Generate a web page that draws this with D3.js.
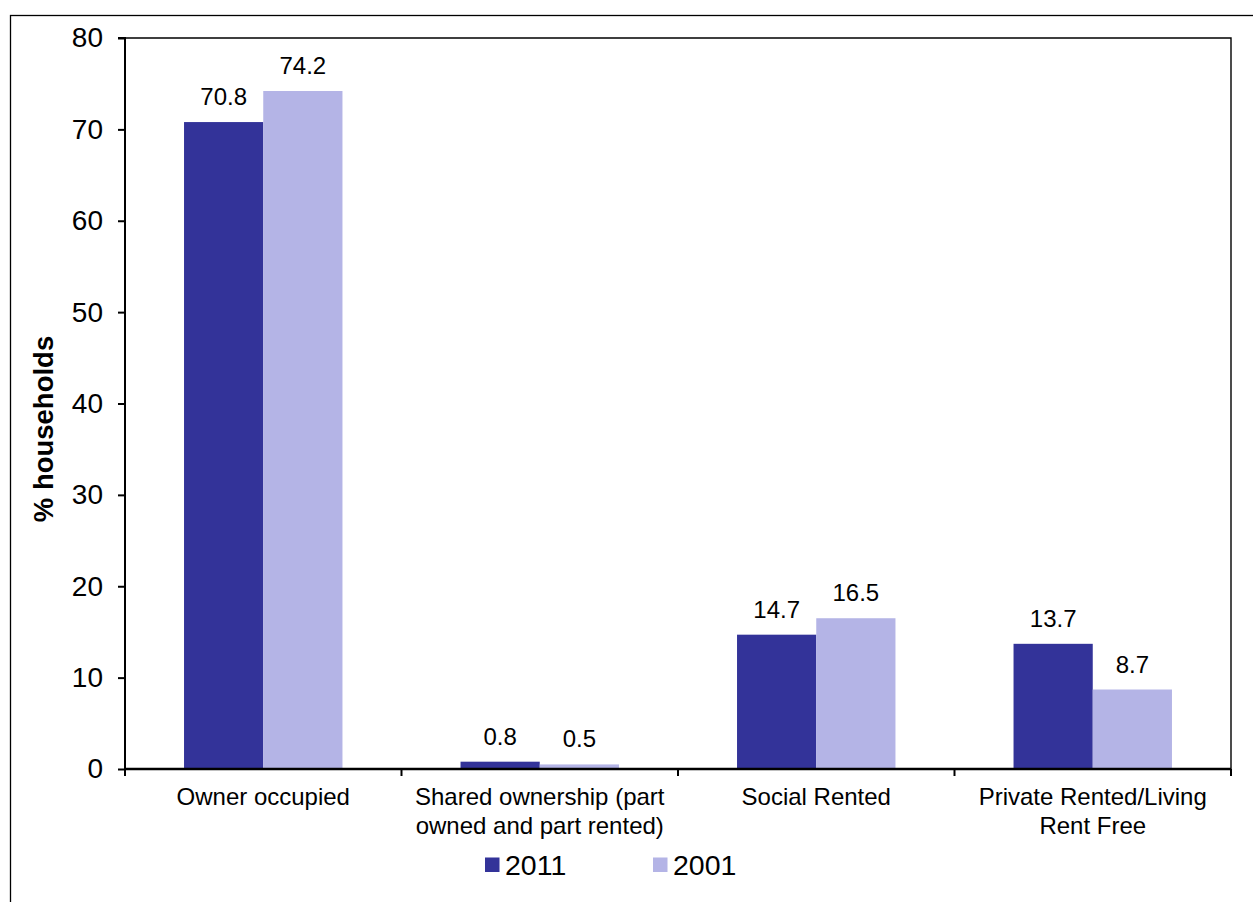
<!DOCTYPE html>
<html>
<head>
<meta charset="utf-8">
<script src="https://cdn.jsdelivr.net/npm/d3@7"></script>
<style>
  html, body { margin: 0; padding: 0; background: #fff; }
  svg { display: block; font-family: "Liberation Sans", Arial, sans-serif; }
</style>
</head>
<body>
<svg id="chart" width="1253" height="902"></svg>
<script>
// Household tenure, share of households (%)
const categories = [
  ["Owner occupied"],
  ["Shared ownership (part", "owned and part rented)"],
  ["Social Rented"],
  ["Private Rented/Living", "Rent Free"]
];
const seriesNames = ["2011", "2001"];
const values2011 = [70.8, 0.8, 14.7, 13.7];
const values2001 = [74.2, 0.5, 16.5, 8.7];
const yTicks = [0, 10, 20, 30, 40, 50, 60, 70, 80];
const colors = ["#333399", "#b4b4e6"];

const svg = d3.select("#chart");
const plot = { left: 125, right: 1231, top: 38, bottom: 769 };

// outer chart frame
svg.append("rect")
  .attr("x", 10.5).attr("y", 15.5)
  .attr("width", 1260).attr("height", 900)
  .attr("fill", "none").attr("stroke", "#000").attr("stroke-width", 1.3);

const x0 = d3.scaleBand()
  .domain(d3.range(categories.length))
  .range([plot.left, plot.right])
  .paddingInner(0).paddingOuter(0);

const groupPad = 0.2135;
const x1 = d3.scaleBand()
  .domain([0, 1])
  .range([x0.bandwidth() * groupPad, x0.bandwidth() * (1 - groupPad)]);

const y = d3.scaleLinear().domain([0, 80]).range([plot.bottom, plot.top]);

// plot area frame (top and right)
svg.append("path")
  .attr("d", `M${plot.left},${plot.top}H${plot.right}V${plot.bottom}`)
  .attr("fill", "none").attr("stroke", "#000").attr("stroke-width", 1.4);

const series = [values2011, values2001];
const groups = svg.append("g");
series.forEach((vals, si) => {
  groups.selectAll(null)
    .data(vals)
    .enter().append("rect")
    .attr("x", (d, i) => x0(i) + x1(si))
    .attr("y", d => y(d))
    .attr("width", x1.bandwidth())
    .attr("height", d => y(0) - y(d))
    .attr("fill", colors[si]);

  groups.selectAll(null)
    .data(vals)
    .enter().append("text")
    .attr("x", (d, i) => x0(i) + x1(si) + x1.bandwidth() / 2)
    .attr("y", d => y(d) - 17)
    .attr("text-anchor", "middle")
    .attr("font-size", 24)
    .attr("fill", "#000")
    .text(d => d.toFixed(1));
});

// y axis
const yAxis = d3.axisLeft(y).tickValues(yTicks).tickSize(7).tickPadding(15);
const gy = svg.append("g").attr("transform", `translate(${plot.left},0)`).call(yAxis);
gy.select(".domain").attr("stroke-width", 2).attr("d", `M-7,${plot.top}H0V${plot.bottom}`);
gy.selectAll(".tick line").attr("stroke-width", 2);
gy.selectAll(".tick text").attr("font-size", 28).attr("font-family", "Liberation Sans, Arial, sans-serif").attr("fill", "#000");

// x axis with ticks at category boundaries
const gx = svg.append("g").attr("transform", `translate(0,${plot.bottom})`);
gx.append("line")
  .attr("x1", plot.left).attr("x2", plot.right)
  .attr("stroke", "#000").attr("stroke-width", 2.4);
const boundaries = d3.range(categories.length + 1).map(i =>
  i < categories.length ? x0(i) : x0(categories.length - 1) + x0.bandwidth());
gx.selectAll(".xtick")
  .data(boundaries)
  .enter().append("line")
  .attr("x1", d => d).attr("x2", d => d)
  .attr("y1", 0).attr("y2", 7)
  .attr("stroke", "#000").attr("stroke-width", 2);

const catLabels = gx.selectAll(".cat")
  .data(categories)
  .enter().append("text")
  .attr("text-anchor", "middle")
  .attr("font-size", 24)
  .attr("fill", "#000");
catLabels.each(function(lines, i) {
  const t = d3.select(this);
  lines.forEach((ln, j) => {
    t.append("tspan")
      .attr("x", x0(i) + x0.bandwidth() / 2)
      .attr("y", 36 + j * 28.5)
      .text(ln);
  });
});

// y axis title
svg.append("text")
  .attr("transform", "translate(53,429) rotate(-90)")
  .attr("text-anchor", "middle")
  .attr("font-size", 27.5)
  .attr("font-weight", "bold")
  .attr("fill", "#000")
  .text("% households");

// legend
const legendX = [485, 653];
const legend = svg.append("g");
seriesNames.forEach((name, i) => {
  legend.append("rect")
    .attr("x", legendX[i]).attr("y", 857.5)
    .attr("width", 14.5).attr("height", 14.5)
    .attr("fill", colors[i]);
  legend.append("text")
    .attr("x", legendX[i] + 20).attr("y", 874.5)
    .attr("font-size", 28.5)
    .attr("fill", "#000")
    .text(name);
});
</script>
</body>
</html>
